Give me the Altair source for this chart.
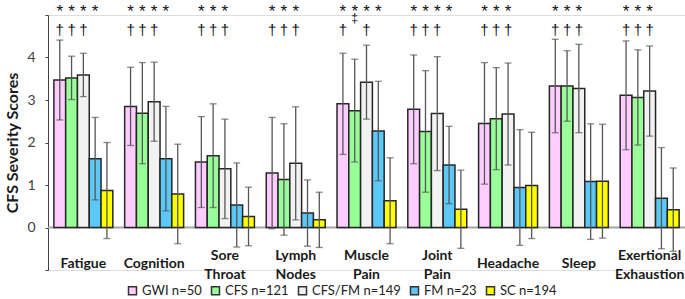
import altair as alt
import pandas as pd

categories = ["Fatigue", "Cognition", "Sore Throat", "Lymph Nodes", "Muscle Pain",
              "Joint Pain", "Headache", "Sleep", "Exertional Exhaustion"]
cat_labels = ["Fatigue", "Cognition", "Sore\nThroat", "Lymph\nNodes", "Muscle\nPain",
              "Joint\nPain", "Headache", "Sleep", "Exertional\nExhaustion"]
groups = ["GWI n=50", "CFS n=121", "CFS/FM n=149", "FM n=23", "SC n=194"]
colors = ["#FFCCFF", "#99FF99", "#F2F2F2", "#5BC8F8", "#FFFF00"]

means = {
    "GWI n=50":     [3.47, 2.85, 1.54, 1.28, 2.91, 2.78, 2.45, 3.33, 3.11],
    "CFS n=121":    [3.52, 2.69, 1.69, 1.13, 2.75, 2.26, 2.56, 3.33, 3.06],
    "CFS/FM n=149": [3.59, 2.96, 1.38, 1.51, 3.42, 2.68, 2.67, 3.27, 3.21],
    "FM n=23":      [1.62, 1.62, 0.53, 0.34, 2.27, 1.47, 0.94, 1.08, 0.69],
    "SC n=194":     [0.87, 0.79, 0.26, 0.18, 0.63, 0.43, 0.99, 1.09, 0.42],
}
sds = {
    "GWI n=50":     [0.94, 0.92, 1.07, 1.31, 1.19, 1.28, 1.43, 1.10, 1.28],
    "CFS n=121":    [0.51, 1.19, 1.22, 1.31, 1.21, 1.43, 1.20, 0.83, 1.12],
    "CFS/FM n=149": [0.51, 0.93, 1.17, 1.33, 0.87, 1.34, 1.20, 1.04, 1.06],
    "FM n=23":      [0.97, 1.23, 0.99, 0.78, 1.17, 0.91, 1.36, 1.36, 1.19],
    "SC n=194":     [1.13, 1.17, 0.69, 0.65, 1.01, 0.92, 1.25, 1.34, 0.98],
}

# significance markers: indices of groups marked per category
stars = [[0, 1, 2, 3], [0, 1, 2, 3], [0, 1, 2], [0, 1, 2], [0, 1, 2, 3],
         [0, 1, 2, 3], [0, 1, 2], [0, 1, 2], [0, 1, 2]]
daggers = [[0, 1, 2], [0, 1, 2], [0, 1, 2], [0, 1, 2], [0, 2],
           [0, 1, 2], [0, 1, 2], [0, 1, 2], [0, 1, 2]]
ddaggers = [[], [], [], [], [1], [], [], [], []]

rows = []
for g in groups:
    for i, c in enumerate(categories):
        m = means[g][i]
        s = sds[g][i]
        rows.append({"cat": c, "grp": g, "mean": m, "lo": m - s, "hi": m + s})
df = pd.DataFrame(rows)

ann = []
for i, c in enumerate(categories):
    for j in stars[i]:
        ann.append({"cat": c, "grp": groups[j], "sym": "*", "kind": "star"})
    for j in daggers[i]:
        ann.append({"cat": c, "grp": groups[j], "sym": "\u2020", "kind": "dag"})
    for j in ddaggers[i]:
        ann.append({"cat": c, "grp": groups[j], "sym": "\u2021", "kind": "ddag"})
ann_df = pd.DataFrame(ann)

lab_df = pd.DataFrame({"cat": categories, "label": cat_labels})

FONT = "Lato"

xscale = alt.Scale(paddingInner=0.167, paddingOuter=0.083)
xenc = alt.X("cat:N", sort=categories, scale=xscale, axis=None)
xoff = alt.XOffset("grp:N", sort=groups, scale=alt.Scale(paddingInner=0, paddingOuter=0))
yscale = alt.Scale(domain=[-1, 5], nice=False, zero=False)

base = alt.Chart(df)

zero = alt.Chart(pd.DataFrame({"z": [0]})).mark_rule(color="#A6A6A6", strokeWidth=2).encode(
    y=alt.Y("z:Q", scale=yscale)
)

bars = base.mark_bar(stroke="#262626", strokeWidth=1.5).encode(
    x=xenc,
    xOffset=xoff,
    y=alt.Y("mean:Q", scale=yscale,
            axis=alt.Axis(values=[-1, 0, 1, 2, 3, 4, 5],
                          labelExpr="datum.value >= 0 && datum.value <= 4 ? datum.label : ''",
                          grid=False, domainColor="#404040", tickColor="#404040",
                          tickSize=3, labelPadding=10, labelFontSize=14, labelFont=FONT,
                          labelColor="#404040", title="CFS Severity Scores",
                          titleFont=FONT, titleFontSize=16, titleFontWeight="bold",
                          titleColor="#1a1a1a", titlePadding=6)),
    y2=alt.Y2(datum=0),
    color=alt.Color("grp:N", sort=groups,
                    scale=alt.Scale(domain=groups, range=colors),
                    legend=alt.Legend(title=None, orient="none", legendX=78, legendY=269,
                                      direction="horizontal", symbolType="square",
                                      symbolSize=64, symbolStrokeColor="#333333",
                                      symbolStrokeWidth=1.5, labelFontSize=13,
                                      labelFont=FONT, labelColor="#222222",
                                      columnPadding=6, labelOffset=3)),
)

whisk = base.mark_rule(color="#555555", strokeWidth=1.3).encode(
    x=xenc, xOffset=xoff,
    y=alt.Y("lo:Q", scale=yscale), y2="hi:Q",
)
cap_lo = base.mark_tick(color="#555555", orient="horizontal", size=7, thickness=1.3).encode(
    x=xenc, xOffset=xoff, y=alt.Y("lo:Q", scale=yscale),
)
cap_hi = base.mark_tick(color="#555555", orient="horizontal", size=7, thickness=1.3).encode(
    x=xenc, xOffset=xoff, y=alt.Y("hi:Q", scale=yscale),
)

star_layer = alt.Chart(ann_df).transform_filter("datum.kind == 'star'").mark_text(
    font="Liberation Sans", fontSize=17, color="#111111", baseline="middle").encode(
    x=xenc, xOffset=xoff, y=alt.Y(datum=5.06, scale=yscale), text="sym:N",
)
dag_layer = alt.Chart(ann_df).transform_filter("datum.kind == 'dag'").mark_text(
    font="Liberation Sans", fontSize=15, color="#111111", baseline="middle").encode(
    x=xenc, xOffset=xoff, y=alt.Y(datum=4.65, scale=yscale), text="sym:N",
)
ddag_layer = alt.Chart(ann_df).transform_filter("datum.kind == 'ddag'").mark_text(
    font="Liberation Sans", fontSize=12, color="#111111", baseline="middle").encode(
    x=xenc, xOffset=xoff, y=alt.Y(datum=4.92, scale=yscale), text="sym:N",
)

labels = alt.Chart(lab_df).transform_calculate(
    ly="indexof(datum.label, '\\n') >= 0 ? -0.66 : -0.86"
).mark_text(font=FONT, fontSize=14, fontWeight="bold",
            color="#1a1a1a", baseline="middle",
            lineBreak="\n", lineHeight=19).encode(
    x=alt.X("cat:N", sort=categories, scale=xscale, axis=None),
    y=alt.Y("ly:Q", scale=yscale),
    text="label:N",
)

chart = alt.layer(zero, bars, whisk, cap_lo, cap_hi, star_layer, dag_layer, ddag_layer,
                  labels).properties(
    width=637, height=255,
    autosize=alt.AutoSizeParams(type="none"),
    padding={"left": 48, "top": 15, "right": 0, "bottom": 29},
).configure_view(stroke=None).configure(background="white")

chart.save("out.html", embed_options={"renderer": "svg", "actions": False})
